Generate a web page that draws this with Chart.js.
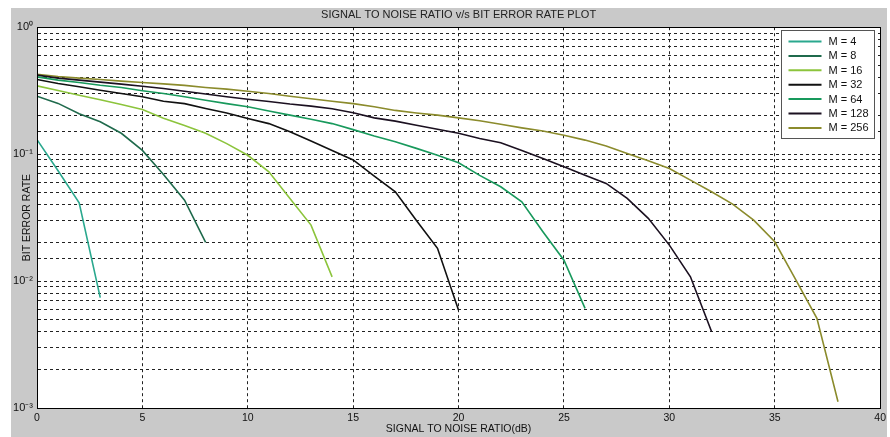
<!DOCTYPE html>
<html>
<head>
<meta charset="utf-8">
<title>SNR vs BER</title>
<script src="https://cdn.jsdelivr.net/npm/chart.js@4.4.1/dist/chart.umd.min.js"></script>
<style>
  html, body { margin: 0; padding: 0; background: #fff; }
</style>
</head>
<body>
<canvas id="berchart" width="890" height="437"></canvas>
<script>
// SNR in dB (x axis), one point per dB
const snrDb = [0, 1, 2, 3, 4, 5, 6, 7, 8, 9, 10, 11, 12, 13, 14, 15, 16, 17, 18, 19,
               20, 21, 22, 23, 24, 25, 26, 27, 28, 29, 30, 31, 32, 33, 34, 35, 36, 37, 38];
const xTicks = [0, 5, 10, 15, 20, 25, 30, 35, 40];

// bit error rate
const berM4 = [0.130, 0.074, 0.0414, 0.0074];
const berM8 = [0.286, 0.251, 0.208, 0.18, 0.146, 0.107, 0.069, 0.0434, 0.0202];
const berM16 = [0.345, 0.317, 0.291, 0.268, 0.246, 0.225, 0.192, 0.168, 0.146, 0.121,
                0.098, 0.0726, 0.0448, 0.0276, 0.0108];
const berM32 = [0.387, 0.36, 0.339, 0.319, 0.3, 0.283, 0.261, 0.25, 0.229, 0.211,
                0.191, 0.174, 0.15, 0.127, 0.107, 0.09, 0.067, 0.0505, 0.03, 0.0181, 0.0059];
const berM64 = [0.406, 0.383, 0.367, 0.349, 0.335, 0.316, 0.3, 0.283, 0.266, 0.25,
                0.236, 0.219, 0.203, 0.188, 0.174, 0.156, 0.139, 0.125, 0.111, 0.098,
                0.0855, 0.068, 0.0553, 0.0421, 0.0245, 0.0146, 0.0061];
const berM128 = [0.419, 0.397, 0.383, 0.369, 0.356, 0.343, 0.329, 0.313, 0.298, 0.283,
                 0.271, 0.26, 0.248, 0.239, 0.228, 0.212, 0.193, 0.182, 0.169, 0.157,
                 0.146, 0.133, 0.123, 0.107, 0.0925, 0.0794, 0.0683, 0.0588, 0.0448, 0.0312,
                 0.0192, 0.0108, 0.004];
const berM256 = [0.426, 0.409, 0.397, 0.387, 0.376, 0.367, 0.358, 0.348, 0.335, 0.325,
                 0.313, 0.3, 0.286, 0.273, 0.261, 0.25, 0.236, 0.221, 0.211, 0.203,
                 0.193, 0.183, 0.172, 0.161, 0.152, 0.141, 0.129, 0.116, 0.101, 0.0886,
                 0.0771, 0.0624, 0.0505, 0.0404, 0.0302, 0.0204, 0.0102, 0.00508, 0.00112];

const seriesLabels = ['M = 4', 'M = 8', 'M = 16', 'M = 32', 'M = 64', 'M = 128', 'M = 256'];
const seriesValues = [berM4, berM8, berM16, berM32, berM64, berM128, berM256];
const seriesColors = ['#2aa88e', '#1f6a4c', '#8cc43c', '#111111', '#18995c', '#1b1020', '#8b8b2c'];

const FONT = "'Liberation Sans', Arial, Helvetica, sans-serif";
const SUP = { '-': '\u207B', '0': '\u2070', '1': '\u00B9', '2': '\u00B2', '3': '\u00B3' };

const toPoints = vals => vals.map((v, i) => ({ x: snrDb[i], y: v }));

// gray figure panel + white axes area
const panelBg = {
  id: 'panelBg',
  beforeDraw(chart) {
    const { ctx, chartArea: a } = chart;
    ctx.save();
    ctx.fillStyle = '#ffffff';
    ctx.fillRect(0, 0, chart.width, chart.height);
    ctx.fillStyle = '#c9c9c9';
    ctx.fillRect(11, 8, chart.width - 14, chart.height - 8);
    ctx.fillStyle = '#ffffff';
    ctx.fillRect(a.left, a.top, a.right - a.left, a.bottom - a.top);
    ctx.restore();
  }
};

// box round the axes, y title, legend
const matlabBits = {
  id: 'matlabBits',
  afterDraw(chart) {
    const { ctx, chartArea: a } = chart;
    ctx.save();
    ctx.strokeStyle = '#000';
    ctx.lineWidth = 1;
    ctx.setLineDash([]);
    ctx.strokeRect(Math.round(a.left) + 0.5, Math.round(a.top) + 0.5,
                   Math.round(a.right - a.left), Math.round(a.bottom - a.top));

    // y axis title
    ctx.fillStyle = '#111';
    ctx.font = '10.5px ' + FONT;
    ctx.translate(27, (a.top + a.bottom) / 2);
    ctx.rotate(-Math.PI / 2);
    ctx.textAlign = 'center';
    ctx.textBaseline = 'middle';
    ctx.fillText('BIT ERROR RATE', 0, 0);
    ctx.restore();

    // legend
    const bw = 93, bh = 108;
    const bx = Math.round(a.right - bw - 6) + 0.5, by = Math.round(a.top + 3) + 0.5;
    ctx.save();
    ctx.fillStyle = '#fff';
    ctx.fillRect(bx, by, bw, bh);
    ctx.strokeStyle = '#555';
    ctx.lineWidth = 1;
    ctx.strokeRect(bx, by, bw, bh);
    ctx.font = '11px ' + FONT;
    ctx.textBaseline = 'middle';
    ctx.textAlign = 'left';
    chart.data.datasets.forEach((ds, i) => {
      const y = by + 11 + i * 14.4;
      ctx.strokeStyle = ds.borderColor;
      ctx.lineWidth = 2;
      ctx.beginPath();
      ctx.moveTo(bx + 7, y);
      ctx.lineTo(bx + 40, y);
      ctx.stroke();
      ctx.fillStyle = '#111';
      ctx.fillText(ds.label, bx + 47, y + 0.5);
    });
    ctx.restore();
  }
};

new Chart(document.getElementById('berchart').getContext('2d'), {
  type: 'line',
  data: {
    datasets: seriesLabels.map((label, i) => ({
      label,
      data: toPoints(seriesValues[i]),
      borderColor: seriesColors[i],
      backgroundColor: seriesColors[i],
      borderWidth: 1.6,
      pointRadius: 0,
      tension: 0,
      fill: false
    }))
  },
  options: {
    responsive: false,
    animation: false,
    layout: { padding: { left: 0, right: 8, top: 0, bottom: 0 } },
    plugins: {
      legend: { display: false },
      tooltip: { enabled: false },
      title: {
        display: true,
        fullSize: false,
        text: 'SIGNAL TO NOISE RATIO v/s BIT ERROR RATE PLOT',
        color: '#222',
        font: { family: FONT, size: 11, weight: 'normal' },
        padding: { top: 8, bottom: 6 }
      }
    },
    scales: {
      x: {
        type: 'linear',
        min: 0,
        max: 40,
        afterBuildTicks: scale => { scale.ticks = xTicks.map(v => ({ value: v })); },
        afterFit: scale => { scale.height = 29; },
        grid: { color: '#222', lineWidth: 1, drawTicks: false },
        border: { display: true, color: '#000', dash: [3, 3] },
        ticks: { color: '#111', font: { family: FONT, size: 10.5 }, padding: 4, maxRotation: 0 },
        title: {
          display: true,
          text: 'SIGNAL TO NOISE RATIO(dB)',
          color: '#111',
          font: { family: FONT, size: 10.5 },
          padding: { top: 0, bottom: 2 }
        }
      },
      y: {
        type: 'logarithmic',
        min: 0.001,
        max: 1,
        afterFit: scale => { scale.width = 37; },
        grid: { color: '#222', lineWidth: 1, drawTicks: false },
        border: { display: true, color: '#000', dash: [3, 3] },
        ticks: {
          autoSkip: false,
          color: '#111',
          font: { family: FONT, size: 11 },
          padding: 4,
          callback: v => {
            const e = Math.log10(v);
            if (Math.abs(e - Math.round(e)) > 1e-6) return '';
            return '10' + String(Math.round(e)).split('').map(c => SUP[c]).join('');
          }
        }
      }
    }
  },
  plugins: [panelBg, matlabBits]
});
</script>
</body>
</html>
